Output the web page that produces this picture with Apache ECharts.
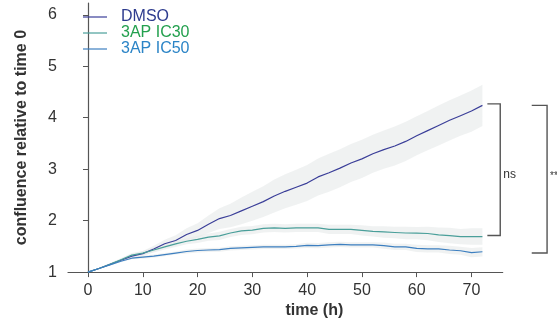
<!DOCTYPE html>
<html><head><meta charset="utf-8">
<script src="https://cdn.jsdelivr.net/npm/echarts@6/dist/echarts.min.js"></script>
<style>html,body{margin:0;padding:0;background:#fff}#c{width:557px;height:324px}</style>
</head><body><div id="c"></div>
<script>
const times = [0,2,4,6,8,10,12,14,16,18,20,22,24,26,28,30,32,34,36,38,40,42,44,46,48,50,52,54,56,58,60,62,64,66,68,70,72];
const dmso = [1.00,1.07,1.15,1.23,1.31,1.36,1.45,1.55,1.615,1.73,1.81,1.93,2.04,2.10,2.19,2.28,2.37,2.48,2.57,2.65,2.73,2.85,2.93,3.02,3.12,3.20,3.30,3.38,3.45,3.54,3.65,3.75,3.85,3.95,4.04,4.13,4.24];
const dmsoSd = [0,0.01,0.02,0.03,0.04,0.05,0.06,0.08,0.10,0.12,0.14,0.17,0.20,0.23,0.26,0.28,0.30,0.32,0.33,0.34,0.35,0.36,0.37,0.37,0.37,0.37,0.37,0.37,0.38,0.38,0.38,0.38,0.39,0.39,0.39,0.40,0.40];
const ic30 = [1.00,1.07,1.15,1.24,1.33,1.37,1.43,1.49,1.55,1.60,1.635,1.68,1.705,1.76,1.80,1.815,1.85,1.86,1.85,1.86,1.86,1.86,1.83,1.83,1.83,1.81,1.79,1.78,1.77,1.76,1.757,1.75,1.725,1.71,1.69,1.69,1.69];
const ic30Sd = [0,0.01,0.02,0.03,0.04,0.04,0.05,0.05,0.06,0.06,0.07,0.07,0.08,0.08,0.08,0.08,0.08,0.08,0.08,0.08,0.08,0.08,0.09,0.09,0.09,0.10,0.10,0.11,0.11,0.12,0.12,0.13,0.14,0.15,0.15,0.16,0.16];
const ic50 = [1.00,1.07,1.14,1.21,1.27,1.29,1.31,1.34,1.37,1.40,1.42,1.43,1.435,1.46,1.47,1.48,1.49,1.49,1.49,1.50,1.52,1.515,1.53,1.54,1.53,1.53,1.53,1.515,1.49,1.49,1.46,1.45,1.45,1.43,1.415,1.38,1.395];
const ic50Sd = [0,0.01,0.01,0.02,0.02,0.03,0.03,0.03,0.03,0.04,0.04,0.04,0.04,0.04,0.04,0.04,0.04,0.04,0.04,0.04,0.05,0.05,0.05,0.05,0.05,0.05,0.05,0.06,0.06,0.06,0.07,0.07,0.07,0.08,0.08,0.09,0.09];
const xTicks = [0,10,20,30,40,50,60,70];
const yTicks = [1,2,3,4,5,6];
const names = ['DMSO','3AP IC30','3AP IC50'];
const lineColors = ['#3b3f99','#4a9f9a','#3d7fc0'];
const textColors = ['#2d3b8e','#23a04e','#2b84c6'];
// brackets: x of vertical (h), x start of horizontals, y top, y bottom, label
const brackets = [
  {x: 75.25, x0: 72.9, yTop: 4.27, yBot: 1.71, label: 'ns', dy: 5, size: 12},
  {x: 83.8, x0: 81.0, yTop: 4.24, yBot: 1.37, label: '**', dy: -3, size: 10}
];

const FONT = 'Liberation Sans, Arial, sans-serif';
const groups = [[dmso, dmsoSd],[ic30, ic30Sd],[ic50, ic50Sd]];
const series = [];
groups.forEach((g, i) => {
  const [m, sd] = g;
  series.push({type:'custom', silent:true, z:1, clip:false,
    data:[[0, 1]],
    renderItem:(params, api) => {
      const up = times.map((t,k)=>api.coord([t, m[k]+sd[k]]));
      const lo = times.map((t,k)=>api.coord([t, m[k]-sd[k]])).reverse();
      return {type:'polygon', shape:{points: up.concat(lo)},
        style:{fill:'#e8ebeb', opacity:0.65}};
    }});
});
groups.forEach((g, i) => {
  series.push({type:'line', name:names[i], symbol:'none', showSymbol:false, z:3,
    data: times.map((t,k)=>[t, g[0][k]]),
    lineStyle:{color:lineColors[i], width:1.2}, itemStyle:{color:lineColors[i]}});
});

const chart = echarts.init(document.getElementById('c'), null, {renderer:'canvas'});
const axisCol = '#555';
chart.setOption({
  animation:false,
  grid:{left:68, right:54.3, top:3, bottom:51.3, containLabel:false},
  legend:{
    orient:'vertical', left:78, top:4, itemGap:0, itemWidth:26, itemHeight:1.2,
    icon:'path://M0,0 L20,0 L20,1 L0,1 Z',
    data: names.map((n,i)=>({name:n, textStyle:{color:textColors[i]}})),
    textStyle:{fontSize:16, fontFamily:FONT, lineHeight:13, padding:[0,0,0,8]}
  },
  xAxis:{type:'value', min:-3.65, max:75.7,
    name:'time (h)', nameLocation:'middle', nameGap:27,
    nameTextStyle:{fontSize:16, fontWeight:'bold', color:'#333', fontFamily:FONT, padding:[0,0,0,58]},
    axisLine:{show:true, lineStyle:{color:axisCol, width:1.2}},
    axisTick:{show:true, length:5, customValues:xTicks, lineStyle:{color:axisCol}},
    axisLabel:{customValues:xTicks, fontSize:16, color:'#333', margin:10, fontFamily:FONT},
    splitLine:{show:false}},
  yAxis:{type:'value', min:1, max:6.23,
    name:'confluence relative to time 0', nameLocation:'middle', nameGap:38, nameRotate:90,
    nameTextStyle:{fontSize:16, fontWeight:'bold', color:'#333', fontFamily:FONT},
    axisLine:{show:true, lineStyle:{color:axisCol, width:1.2}},
    axisTick:{show:true, length:5, customValues:yTicks, lineStyle:{color:axisCol}},
    axisLabel:{customValues:yTicks, fontSize:16, color:'#333', margin:11, fontFamily:FONT},
    splitLine:{show:false}},
  series: series
});

const gfx = [];
brackets.forEach(b => {
  const pTop = chart.convertToPixel({gridIndex:0}, [b.x, b.yTop]);
  const pBot = chart.convertToPixel({gridIndex:0}, [b.x, b.yBot]);
  const p0 = chart.convertToPixel({gridIndex:0}, [b.x0, b.yTop]);
  const ls = {stroke:'#555', lineWidth:1.4, fill:null};
  gfx.push({type:'polyline', shape:{points:[[p0[0],pTop[1]],[pTop[0],pTop[1]],[pBot[0],pBot[1]],[p0[0],pBot[1]]]}, style:ls, z:10});
  gfx.push({type:'text', x:pTop[0]+3, y:(pTop[1]+pBot[1])/2 + b.dy,
    style:{text:b.label, fontSize:b.size, fill:'#333', fontFamily:FONT, verticalAlign:'middle'}, z:10});
});
chart.setOption({graphic:gfx});
</script></body></html>
